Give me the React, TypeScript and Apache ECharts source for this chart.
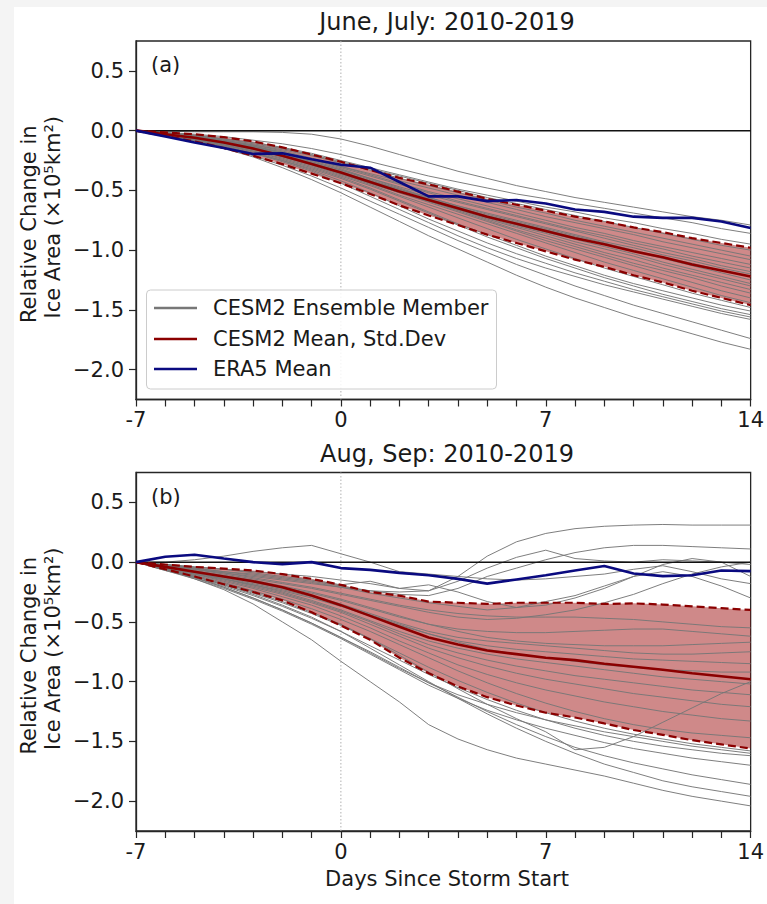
import React, { useEffect, useRef } from "react";
import * as echarts from "echarts";

const DAYS = [-7, -6, -5, -4, -3, -2, -1, 0, 1, 2, 3, 4, 5, 6, 7, 8, 9, 10, 11, 12, 13, 14];
const X_LABELS = [-7, 0, 7, 14];
const Y_TICKS = [-2, -1.5, -1, -0.5, 0, 0.5];
const TITLES = ["June, July: 2010-2019", "Aug, Sep: 2010-2019"];
const PANEL_LABELS = ["(a)", "(b)"];
const LEGEND_NAMES = ["CESM2 Ensemble Member", "CESM2 Mean, Std.Dev", "ERA5 Mean"];

// Panel (a) June, July
const MEAN_A = [0, -0.03, -0.06, -0.10, -0.15, -0.21, -0.28, -0.35, -0.43, -0.51, -0.58, -0.65, -0.72, -0.78, -0.84, -0.90, -0.95, -1.01, -1.06, -1.12, -1.17, -1.22];
const STD_A = [0, 0.015, 0.03, 0.045, 0.06, 0.07, 0.08, 0.09, 0.10, 0.115, 0.13, 0.14, 0.15, 0.16, 0.17, 0.18, 0.19, 0.20, 0.21, 0.22, 0.23, 0.24];
const ERA5_A = [0, -0.05, -0.10, -0.145, -0.195, -0.19, -0.24, -0.285, -0.31, -0.43, -0.55, -0.55, -0.59, -0.58, -0.61, -0.66, -0.68, -0.72, -0.73, -0.73, -0.76, -0.815];
const MEMBERS_A = [
  [0, -0.04, -0.09, -0.15, -0.22, -0.31, -0.41, -0.52, -0.64, -0.76, -0.88, -0.99, -1.10, -1.21, -1.31, -1.40, -1.48, -1.56, -1.63, -1.70, -1.77, -1.83],
  [0, -0.04, -0.08, -0.14, -0.21, -0.29, -0.38, -0.48, -0.59, -0.70, -0.81, -0.92, -1.02, -1.12, -1.21, -1.30, -1.38, -1.46, -1.53, -1.60, -1.67, -1.74],
  [0, -0.04, -0.08, -0.13, -0.19, -0.26, -0.34, -0.44, -0.55, -0.66, -0.77, -0.88, -0.98, -1.07, -1.15, -1.22, -1.29, -1.35, -1.41, -1.47, -1.53, -1.58],
  [0, -0.035, -0.075, -0.12, -0.18, -0.25, -0.33, -0.42, -0.52, -0.63, -0.74, -0.84, -0.94, -1.03, -1.11, -1.19, -1.26, -1.33, -1.39, -1.45, -1.51, -1.56],
  [0, -0.04, -0.08, -0.13, -0.19, -0.25, -0.32, -0.40, -0.49, -0.59, -0.69, -0.79, -0.89, -0.98, -1.07, -1.15, -1.23, -1.30, -1.37, -1.43, -1.49, -1.54],
  [0, -0.03, -0.07, -0.12, -0.17, -0.24, -0.31, -0.39, -0.48, -0.58, -0.68, -0.78, -0.87, -0.96, -1.05, -1.13, -1.21, -1.28, -1.34, -1.40, -1.46, -1.51],
  [0, -0.035, -0.07, -0.115, -0.17, -0.23, -0.30, -0.38, -0.46, -0.55, -0.64, -0.73, -0.82, -0.91, -0.99, -1.07, -1.15, -1.22, -1.29, -1.36, -1.42, -1.48],
  [0, -0.03, -0.065, -0.11, -0.16, -0.22, -0.29, -0.37, -0.45, -0.54, -0.62, -0.70, -0.78, -0.86, -0.94, -1.02, -1.10, -1.17, -1.24, -1.31, -1.38, -1.44],
  [0, -0.03, -0.065, -0.105, -0.155, -0.21, -0.28, -0.36, -0.44, -0.52, -0.60, -0.68, -0.76, -0.84, -0.92, -0.99, -1.06, -1.13, -1.20, -1.27, -1.34, -1.40],
  [0, -0.03, -0.06, -0.10, -0.15, -0.21, -0.28, -0.35, -0.43, -0.51, -0.59, -0.67, -0.75, -0.83, -0.90, -0.97, -1.04, -1.11, -1.17, -1.23, -1.30, -1.36],
  [0, -0.03, -0.06, -0.10, -0.15, -0.20, -0.27, -0.34, -0.42, -0.50, -0.58, -0.66, -0.74, -0.81, -0.88, -0.95, -1.02, -1.08, -1.15, -1.21, -1.27, -1.33],
  [0, -0.025, -0.055, -0.09, -0.14, -0.20, -0.27, -0.35, -0.43, -0.51, -0.59, -0.66, -0.73, -0.80, -0.86, -0.93, -0.99, -1.05, -1.12, -1.18, -1.24, -1.30],
  [0, -0.03, -0.06, -0.10, -0.15, -0.21, -0.28, -0.36, -0.44, -0.52, -0.59, -0.66, -0.72, -0.79, -0.85, -0.91, -0.97, -1.03, -1.10, -1.16, -1.22, -1.28],
  [0, -0.025, -0.05, -0.09, -0.14, -0.19, -0.26, -0.33, -0.41, -0.49, -0.57, -0.64, -0.71, -0.77, -0.83, -0.89, -0.95, -1.01, -1.07, -1.13, -1.19, -1.25],
  [0, -0.03, -0.06, -0.10, -0.15, -0.21, -0.28, -0.35, -0.42, -0.49, -0.56, -0.63, -0.70, -0.76, -0.82, -0.88, -0.94, -1.00, -1.06, -1.11, -1.17, -1.22],
  [0, -0.02, -0.05, -0.09, -0.13, -0.19, -0.25, -0.32, -0.40, -0.48, -0.56, -0.63, -0.69, -0.75, -0.81, -0.87, -0.93, -0.98, -1.04, -1.09, -1.15, -1.20],
  [0, -0.03, -0.06, -0.09, -0.14, -0.19, -0.26, -0.33, -0.40, -0.47, -0.54, -0.60, -0.66, -0.72, -0.78, -0.84, -0.90, -0.96, -1.02, -1.07, -1.13, -1.18],
  [0, -0.025, -0.05, -0.085, -0.13, -0.18, -0.24, -0.31, -0.38, -0.45, -0.52, -0.59, -0.65, -0.71, -0.77, -0.83, -0.88, -0.94, -0.99, -1.05, -1.10, -1.15],
  [0, -0.02, -0.045, -0.08, -0.12, -0.17, -0.23, -0.30, -0.37, -0.44, -0.51, -0.57, -0.63, -0.69, -0.75, -0.81, -0.86, -0.92, -0.97, -1.02, -1.07, -1.12],
  [0, -0.025, -0.05, -0.085, -0.13, -0.18, -0.24, -0.30, -0.36, -0.42, -0.48, -0.54, -0.60, -0.66, -0.72, -0.77, -0.82, -0.87, -0.93, -0.98, -1.03, -1.08],
  [0, -0.02, -0.045, -0.08, -0.12, -0.16, -0.21, -0.27, -0.33, -0.40, -0.46, -0.52, -0.58, -0.64, -0.69, -0.75, -0.80, -0.85, -0.90, -0.95, -1.00, -1.05],
  [0, -0.02, -0.04, -0.07, -0.11, -0.15, -0.20, -0.26, -0.32, -0.38, -0.44, -0.50, -0.56, -0.61, -0.66, -0.71, -0.76, -0.81, -0.86, -0.91, -0.96, -1.00],
  [0, -0.02, -0.04, -0.07, -0.10, -0.14, -0.19, -0.25, -0.31, -0.37, -0.43, -0.49, -0.54, -0.59, -0.64, -0.68, -0.73, -0.77, -0.82, -0.86, -0.91, -0.95],
  [0, -0.015, -0.03, -0.05, -0.08, -0.11, -0.15, -0.20, -0.26, -0.32, -0.38, -0.43, -0.48, -0.53, -0.57, -0.61, -0.65, -0.69, -0.73, -0.77, -0.82, -0.86],
  [0, -0.005, -0.01, -0.01, -0.01, -0.015, -0.03, -0.07, -0.13, -0.20, -0.27, -0.34, -0.40, -0.46, -0.51, -0.56, -0.60, -0.64, -0.68, -0.72, -0.75, -0.79],
];

// Panel (b) Aug, Sep
const MEAN_B = [0, -0.04, -0.08, -0.12, -0.16, -0.21, -0.28, -0.36, -0.45, -0.54, -0.63, -0.69, -0.74, -0.77, -0.80, -0.82, -0.85, -0.875, -0.90, -0.93, -0.955, -0.98];
const STD_B = [0, 0.02, 0.04, 0.065, 0.09, 0.11, 0.14, 0.17, 0.20, 0.26, 0.30, 0.35, 0.39, 0.43, 0.46, 0.48, 0.50, 0.53, 0.545, 0.56, 0.57, 0.58];
const ERA5_B = [0, 0.045, 0.062, 0.03, 0.0, -0.017, 0.0, -0.05, -0.065, -0.09, -0.11, -0.14, -0.18, -0.145, -0.11, -0.07, -0.033, -0.095, -0.117, -0.11, -0.07, -0.075];
const MEMBERS_B = [
  [0, -0.03, -0.06, -0.09, -0.12, -0.15, -0.18, -0.21, -0.24, -0.25, -0.24, -0.12, 0.05, 0.17, 0.24, 0.28, 0.30, 0.31, 0.315, 0.31, 0.31, 0.31],
  [0, -0.03, -0.05, -0.08, -0.10, -0.13, -0.16, -0.20, -0.24, -0.27, -0.28, -0.22, -0.12, -0.05, 0.02, 0.08, 0.12, 0.14, 0.14, 0.13, 0.12, 0.11],
  [0, -0.02, -0.04, -0.06, -0.08, -0.10, -0.12, -0.15, -0.18, -0.22, -0.24, -0.16, -0.05, 0.04, 0.10, 0.03, 0.01, 0.0, 0.02, 0.01, 0.0, -0.02],
  [0, 0.0, 0.02, 0.05, 0.09, 0.12, 0.14, 0.07, 0.0, -0.08, -0.10, -0.12, -0.14, -0.15, -0.14, -0.12, -0.10, -0.06, -0.03, -0.08, -0.14, -0.18],
  [0, -0.02, -0.04, -0.06, -0.09, -0.12, -0.15, -0.19, -0.16, -0.22, -0.19, -0.25, -0.33, -0.38, -0.36, -0.30, -0.22, -0.12, -0.02, 0.03, 0.0, -0.12],
  [0, -0.02, -0.05, -0.08, -0.11, -0.14, -0.17, -0.21, -0.26, -0.30, -0.34, -0.37, -0.40, -0.38, -0.33, -0.28, -0.20, -0.12, -0.08, -0.12, -0.20, -0.30],
  [0, -0.03, -0.06, -0.10, -0.14, -0.18, -0.22, -0.27, -0.32, -0.37, -0.42, -0.46, -0.48, -0.47, -0.44, -0.40, -0.34, -0.27, -0.18, -0.10, -0.04, 0.0],
  [0, -0.03, -0.06, -0.09, -0.13, -0.17, -0.21, -0.26, -0.31, -0.36, -0.40, -0.43, -0.45, -0.46, -0.46, -0.46, -0.47, -0.48, -0.50, -0.52, -0.54, -0.55],
  [0, -0.04, -0.08, -0.12, -0.16, -0.21, -0.26, -0.32, -0.39, -0.46, -0.52, -0.56, -0.58, -0.59, -0.59, -0.58, -0.57, -0.56, -0.56, -0.58, -0.60, -0.62],
  [0, -0.03, -0.07, -0.11, -0.15, -0.20, -0.25, -0.31, -0.38, -0.45, -0.52, -0.58, -0.63, -0.66, -0.68, -0.69, -0.70, -0.70, -0.70, -0.69, -0.68, -0.67],
  [0, -0.04, -0.08, -0.12, -0.17, -0.22, -0.28, -0.35, -0.43, -0.51, -0.58, -0.63, -0.66, -0.68, -0.70, -0.72, -0.74, -0.76, -0.77, -0.77, -0.76, -0.75],
  [0, -0.05, -0.10, -0.14, -0.19, -0.24, -0.30, -0.37, -0.45, -0.53, -0.60, -0.66, -0.70, -0.73, -0.75, -0.77, -0.79, -0.81, -0.82, -0.83, -0.84, -0.85],
  [0, -0.04, -0.08, -0.13, -0.18, -0.23, -0.29, -0.36, -0.44, -0.52, -0.60, -0.67, -0.73, -0.77, -0.80, -0.83, -0.86, -0.88, -0.90, -0.91, -0.92, -0.92],
  [0, -0.05, -0.09, -0.14, -0.19, -0.25, -0.32, -0.40, -0.49, -0.58, -0.66, -0.72, -0.77, -0.81, -0.84, -0.87, -0.90, -0.93, -0.96, -0.98, -1.00, -1.02],
  [0, -0.04, -0.09, -0.14, -0.20, -0.26, -0.33, -0.41, -0.50, -0.60, -0.69, -0.76, -0.82, -0.87, -0.91, -0.95, -0.98, -1.01, -1.04, -1.07, -1.09, -1.11],
  [0, -0.05, -0.10, -0.15, -0.21, -0.27, -0.34, -0.42, -0.52, -0.62, -0.72, -0.80, -0.87, -0.93, -0.98, -1.02, -1.06, -1.10, -1.13, -1.16, -1.19, -1.21],
  [0, -0.05, -0.10, -0.16, -0.22, -0.29, -0.36, -0.45, -0.55, -0.66, -0.76, -0.86, -0.94, -1.01, -1.07, -1.12, -1.17, -1.21, -1.25, -1.28, -1.31, -1.33],
  [0, -0.06, -0.12, -0.18, -0.25, -0.33, -0.42, -0.52, -0.64, -0.78, -0.92, -1.06, -1.19, -1.31, -1.42, -1.57, -1.55, -1.46, -1.34, -1.22, -1.10, -1.00],
  [0, -0.05, -0.11, -0.17, -0.24, -0.31, -0.39, -0.48, -0.58, -0.69, -0.80, -0.91, -1.01, -1.10, -1.18, -1.25, -1.31, -1.36, -1.40, -1.43, -1.45, -1.47],
  [0, -0.06, -0.12, -0.19, -0.26, -0.34, -0.43, -0.53, -0.64, -0.76, -0.88, -0.99, -1.09, -1.18, -1.26, -1.33, -1.39, -1.44, -1.48, -1.52, -1.55, -1.58],
  [0, -0.07, -0.13, -0.20, -0.28, -0.37, -0.47, -0.58, -0.70, -0.82, -0.94, -1.05, -1.15, -1.24, -1.32, -1.39, -1.45, -1.50, -1.54, -1.57, -1.60, -1.62],
  [0, -0.06, -0.13, -0.21, -0.30, -0.40, -0.51, -0.63, -0.76, -0.89, -1.01, -1.11, -1.19, -1.26, -1.32, -1.37, -1.42, -1.46, -1.50, -1.54, -1.57, -1.60],
  [0, -0.07, -0.14, -0.22, -0.31, -0.41, -0.52, -0.64, -0.77, -0.90, -1.03, -1.14, -1.24, -1.32, -1.39, -1.45, -1.51, -1.56, -1.60, -1.64, -1.67, -1.70],
  [0, -0.06, -0.13, -0.21, -0.30, -0.40, -0.51, -0.63, -0.75, -0.88, -1.01, -1.13, -1.25, -1.36, -1.46, -1.55, -1.62, -1.68, -1.73, -1.78, -1.82, -1.86],
  [0, -0.06, -0.12, -0.19, -0.27, -0.36, -0.46, -0.58, -0.72, -0.86, -1.00, -1.14, -1.27, -1.39, -1.50, -1.60, -1.69, -1.76, -1.83, -1.88, -1.92, -1.96],
  [0, -0.06, -0.14, -0.23, -0.35, -0.50, -0.65, -0.83, -1.00, -1.17, -1.36, -1.48, -1.57, -1.64, -1.69, -1.74, -1.79, -1.85, -1.91, -1.96, -2.00, -2.04],
];

const PANELS = [
  { mean: MEAN_A, std: STD_A, era5: ERA5_A, members: MEMBERS_A },
  { mean: MEAN_B, std: STD_B, era5: ERA5_B, members: MEMBERS_B },
];

const FONT = "DejaVu Sans";
const TXT = "#1a1a1a";
const AXIS_C = "#262626";
const GRIDS = [
  { left: 136, top: 41, width: 622, height: 358.5 },
  { left: 136, top: 472.5, width: 622, height: 358.5 },
];

const pairs = (ys: number[]) => DAYS.map((d, j) => [d, ys[j]]);

export default function App() {
  const ref = useRef<HTMLDivElement>(null);
  useEffect(() => {
    if (!ref.current) return;
    const chart = echarts.init(ref.current, null, { renderer: "svg" });
    const series: any[] = [];
    const xAxes: any[] = [];
    const yAxes: any[] = [];
    const graphics: any[] = [
      { type: "rect", shape: { x: 14, y: 7, width: 760, height: 900 }, style: { fill: "#ffffff" }, z: -10, silent: true },
    ];

    PANELS.forEach((p, i) => {
      const upper = p.mean.map((m, j) => m + p.std[j]);
      const lower = p.mean.map((m, j) => m - p.std[j]);
      xAxes.push({
        type: "value", gridIndex: i, min: -7, max: 14, interval: 1,
        axisLine: { show: true, onZero: false, lineStyle: { color: AXIS_C, width: 1.3 } },
        axisTick: { show: true, length: 7, lineStyle: { color: AXIS_C, width: 1.2 } },
        axisLabel: {
          margin: 10, color: TXT, fontFamily: FONT, fontSize: 21,
          formatter: (v: number) => (X_LABELS.includes(v) ? String(v) : ""),
        },
        splitLine: { show: false },
      });
      yAxes.push({
        type: "value", gridIndex: i, min: -2.25, max: 0.75,
        axisLine: { show: true, onZero: false, lineStyle: { color: AXIS_C, width: 1.3 } },
        axisTick: { show: true, length: 7, customValues: Y_TICKS, lineStyle: { color: AXIS_C, width: 1.2 } },
        axisLabel: {
          margin: 12, color: TXT, fontFamily: FONT, fontSize: 21, customValues: Y_TICKS,
          formatter: (v: number) => (v < 0 ? "\u2212" : "") + Math.abs(v).toFixed(1),
        },
        splitLine: { show: false },
      });
      // vertical dotted line at day 0
      series.push({
        type: "line", xAxisIndex: i, yAxisIndex: i, data: [[0, -2.25], [0, 0.75]],
        symbol: "none", silent: true, z: 1,
        lineStyle: { color: "#b0b0b0", width: 1, type: [1.5, 2] },
      });
      // std band
      series.push({
        type: "custom", xAxisIndex: i, yAxisIndex: i, coordinateSystem: "cartesian2d",
        data: [[0, 0]], silent: true, z: 2,
        renderItem: (_params: any, api: any) => {
          const pts: number[][] = [];
          DAYS.forEach((d, j) => pts.push(api.coord([d, upper[j]])));
          for (let j = DAYS.length - 1; j >= 0; j--) pts.push(api.coord([DAYS[j], lower[j]]));
          return { type: "polygon", shape: { points: pts }, style: { fill: "rgba(160,20,20,0.5)" } };
        },
      });
      p.members.forEach((m) => {
        series.push({
          type: "line", name: LEGEND_NAMES[0], xAxisIndex: i, yAxisIndex: i, data: pairs(m),
          symbol: "none", silent: true, z: 3,
          lineStyle: { color: "#777777", width: 0.95 },
        });
      });
      // zero line
      series.push({
        type: "line", xAxisIndex: i, yAxisIndex: i, data: [[-7, 0], [14, 0]],
        symbol: "none", silent: true, z: 4,
        lineStyle: { color: "#111111", width: 1.5 },
      });
      series.push({
        type: "line", xAxisIndex: i, yAxisIndex: i, data: pairs(upper),
        symbol: "none", silent: true, z: 5,
        lineStyle: { color: "#8b0000", width: 2.2, type: [8, 4] },
      });
      series.push({
        type: "line", xAxisIndex: i, yAxisIndex: i, data: pairs(lower),
        symbol: "none", silent: true, z: 5,
        lineStyle: { color: "#8b0000", width: 2.2, type: [8, 4] },
      });
      series.push({
        type: "line", name: LEGEND_NAMES[1], xAxisIndex: i, yAxisIndex: i, data: pairs(p.mean),
        symbol: "none", silent: true, z: 6,
        lineStyle: { color: "#8b0000", width: 2.6 },
      });
      series.push({
        type: "line", name: LEGEND_NAMES[2], xAxisIndex: i, yAxisIndex: i, data: pairs(p.era5),
        symbol: "none", silent: true, z: 7,
        lineStyle: { color: "#0a0a80", width: 2.6 },
      });

      const g = GRIDS[i];
      const cx = g.left + g.width / 2;
      const cy = g.top + g.height / 2;
      graphics.push({
        type: "text", x: cx, y: g.top - 19, silent: true,
        style: { text: TITLES[i], font: `24px "${FONT}"`, fill: TXT, textAlign: "center", textVerticalAlign: "middle", verticalAlign: "middle" },
      });
      graphics.push({
        type: "text", x: g.left + 15, y: g.top + 24, silent: true,
        style: { text: PANEL_LABELS[i], font: `21px "${FONT}"`, fill: TXT, textAlign: "left", textVerticalAlign: "middle", verticalAlign: "middle" },
      });
      graphics.push({
        type: "text", x: 29, y: cy + 4, rotation: Math.PI / 2, silent: true,
        style: { text: "Relative Change in", font: `21px "${FONT}"`, fill: TXT, textAlign: "center", textVerticalAlign: "middle", verticalAlign: "middle" },
      });
      graphics.push({
        type: "text", x: 53, y: cy - 3, rotation: Math.PI / 2, silent: true,
        style: { text: "Ice Area (\u00d710\u2075km\u00b2)", font: `21px "${FONT}"`, fill: TXT, textAlign: "center", textVerticalAlign: "middle", verticalAlign: "middle" },
      });
    });

    // x-axis name
    graphics.push({
      type: "text", x: 447, y: 879, silent: true,
      style: { text: "Days Since Storm Start", font: `21px "${FONT}"`, fill: TXT, textAlign: "center", textVerticalAlign: "middle", verticalAlign: "middle" },
    });
    // legend (panel a)
    const LEG_COLORS = ["#777777", "#8b0000", "#0a0a80"];
    const LEG_Y = [308, 339, 369];
    graphics.push({
      type: "rect", shape: { x: 146.5, y: 290, width: 350, height: 99, r: 4 }, silent: true, z: 20,
      style: { fill: "rgba(255,255,255,0.85)", stroke: "#cccccc", lineWidth: 1 },
    });
    LEGEND_NAMES.forEach((nm, k) => {
      graphics.push({
        type: "line", shape: { x1: 154, y1: LEG_Y[k], x2: 197, y2: LEG_Y[k] }, silent: true, z: 21,
        style: { stroke: LEG_COLORS[k], lineWidth: 2.4 },
      });
      graphics.push({
        type: "text", x: 213, y: LEG_Y[k], silent: true, z: 21,
        style: { text: nm, font: `21px "${FONT}"`, fill: TXT, textAlign: "left", textVerticalAlign: "middle", verticalAlign: "middle" },
      });
    });

    chart.setOption({
      animation: false,
      backgroundColor: "#f4f4f4",
      grid: GRIDS.map((g) => ({ ...g, show: true, borderColor: AXIS_C, borderWidth: 1.3, backgroundColor: "transparent" })),
      xAxis: xAxes,
      yAxis: yAxes,
      series,
      graphic: graphics,
    });
    return () => chart.dispose();
  }, []);
  return <div ref={ref} style={{ position: "absolute", left: 0, top: 0, width: 767, height: 904 }} />;
}
